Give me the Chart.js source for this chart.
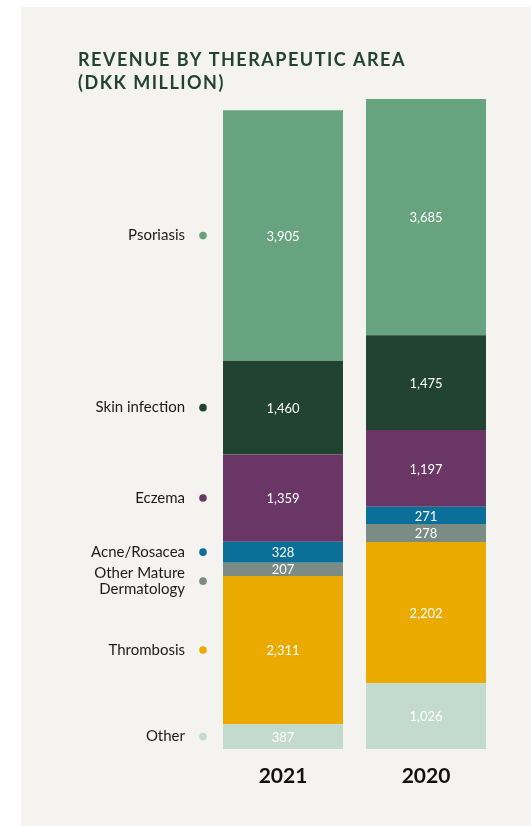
<!DOCTYPE html>
<html>
<head>
<meta charset="utf-8">
<script src="https://cdn.jsdelivr.net/npm/chart.js@4"></script>
<style>
  html, body { margin: 0; padding: 0; background: #fff; }
  canvas { display: block; }
</style>
</head>
<body>
<canvas id="revenueChart" width="531" height="826"></canvas>
<script>
// data, DKK million
const years = ['2021', '2020'];
const areas = ['Other', 'Thrombosis', 'Other Mature Dermatology', 'Acne/Rosacea', 'Eczema', 'Skin infection', 'Psoriasis'];
const areaLabelLines = [['Other'], ['Thrombosis'], ['Other Mature', 'Dermatology'], ['Acne/Rosacea'], ['Eczema'], ['Skin infection'], ['Psoriasis']];
const other = [387, 1026];
const thrombosis = [2311, 2202];
const otherMature = [207, 278];
const acneRosacea = [328, 271];
const eczema = [1359, 1197];
const skinInfection = [1460, 1475];
const psoriasis = [3905, 3685];

const seriesValues = [other, thrombosis, otherMature, acneRosacea, eczema, skinInfection, psoriasis];
const seriesColors = ['#c3dbcf', '#eaaa00', '#7a8c84', '#0a7099', '#693665', '#224232', '#67a37f'];

const totals = years.map((y, i) => seriesValues.reduce((s, arr) => s + arr[i], 0));

const FONT = 'Lato, "Open Sans", sans-serif';

// panel background + title
const backgroundPlugin = {
    id: 'panel',
    beforeDraw(chart) {
        const ctx = chart.ctx;
        ctx.save();
        ctx.fillStyle = '#ffffff';
        ctx.fillRect(0, 0, chart.width, chart.height);
        ctx.fillStyle = '#f4f3ef';
        ctx.fillRect(21, 7, chart.width - 21, chart.height - 7);

        ctx.fillStyle = '#224232';
        ctx.font = 'bold 18px ' + FONT;
        ctx.letterSpacing = '1.5px';
        ctx.textAlign = 'left';
        ctx.textBaseline = 'alphabetic';
        ctx.fillText('REVENUE BY THERAPEUTIC AREA', 78, 66);
        ctx.fillText('(DKK MILLION)', 78, 89);
        ctx.restore();
    }
};

// value labels, left legend, year labels
const labelsPlugin = {
    id: 'labels',
    afterDatasetsDraw(chart) {
        const ctx = chart.ctx;
        ctx.save();

        // values inside segments
        ctx.font = '13px ' + FONT;
        ctx.fillStyle = '#ffffff';
        ctx.textAlign = 'center';
        ctx.textBaseline = 'middle';
        chart.data.datasets.forEach((ds, di) => {
            const meta = chart.getDatasetMeta(di);
            meta.data.forEach((bar, i) => {
                const v = ds.data[i];
                ctx.fillText(v.toLocaleString('en-US'), bar.x, (bar.y + bar.base) / 2 + 1);
            });
        });

        // left legend, aligned to 2021 bar, top-down with collision avoidance
        ctx.font = '15px ' + FONT;
        ctx.textAlign = 'right';
        const lineH = 16;
        let prevBottom = -Infinity;
        for (let di = chart.data.datasets.length - 1; di >= 0; di--) {
            const bar = chart.getDatasetMeta(di).data[0];
            const lines = areaLabelLines[di];
            const h = lines.length * lineH;
            let cy = (bar.y + bar.base) / 2;
            cy = Math.max(cy, prevBottom + 5 + h / 2);
            prevBottom = cy + h / 2;
            ctx.fillStyle = '#1b1b1b';
            lines.forEach((t, k) => {
                ctx.fillText(t, 185, cy - h / 2 + lineH / 2 + k * lineH);
            });
            ctx.beginPath();
            ctx.fillStyle = seriesColors[di];
            ctx.arc(203, cy, 3.8, 0, Math.PI * 2);
            ctx.fill();
        }

        // year labels under bars
        const xScale = chart.scales.x;
        ctx.font = 'bold 21px ' + FONT;
        ctx.fillStyle = '#111111';
        ctx.textAlign = 'center';
        years.forEach((y, i) => {
            ctx.fillText(y, xScale.getPixelForValue(i), chart.chartArea.bottom + 27);
        });
        ctx.restore();
    }
};

const revenueChartConfig = {
    type: 'bar',
    data: {
        labels: years,
        datasets: areas.map((name, i) => ({
            label: name,
            data: seriesValues[i],
            backgroundColor: seriesColors[i],
            borderWidth: 0
        }))
    },
    options: {
        responsive: false,
        animation: false,
        devicePixelRatio: 1,
        layout: {
            padding: { left: 211.5, right: 33.5, top: 99, bottom: 77 }
        },
        plugins: {
            legend: { display: false },
            tooltip: { enabled: false }
        },
        datasets: {
            bar: { categoryPercentage: 1, barPercentage: 0.839 }
        },
        scales: {
            x: { stacked: true, display: false },
            y: { stacked: true, display: false, min: 0, max: Math.max(...totals) }
        }
    },
    plugins: [backgroundPlugin, labelsPlugin]
};

window.onload = function () {
    const ctx = document.getElementById('revenueChart').getContext('2d');
    new Chart(ctx, revenueChartConfig);
};
</script>
</body>
</html>
